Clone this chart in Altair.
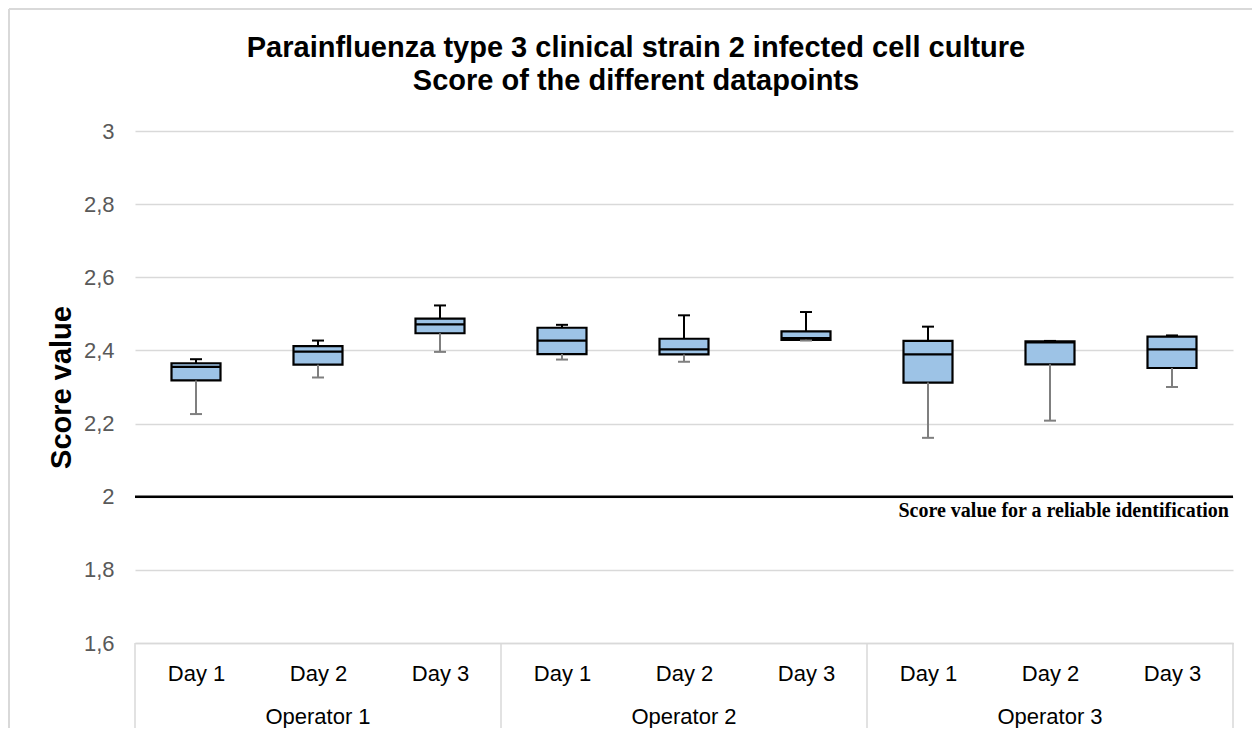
import altair as alt
import pandas as pd

# ---------------- data ----------------
operators = ["Operator 1"] * 3 + ["Operator 2"] * 3 + ["Operator 3"] * 3
days = ["Day 1", "Day 2", "Day 3"] * 3
whisker_low = [2.226, 2.326, 2.396, 2.375, 2.369, 2.427, 2.161, 2.208, 2.300]
q1 = [2.318, 2.361, 2.447, 2.390, 2.389, 2.429, 2.312, 2.362, 2.352]
median = [2.355, 2.397, 2.471, 2.427, 2.403, 2.434, 2.389, 2.422, 2.403]
q3 = [2.365, 2.412, 2.487, 2.462, 2.432, 2.452, 2.426, 2.425, 2.438]
whisker_high = [2.376, 2.427, 2.523, 2.470, 2.496, 2.505, 2.465, 2.426, 2.441]

y_ticks = [1.6, 1.8, 2.0, 2.2, 2.4, 2.6, 2.8, 3.0]
ref_value = [2.0]
ref_label = "Score value for a reliable identification"
title_lines = ["Parainfluenza type 3 clinical strain 2 infected cell culture",
               "Score of the different datapoints"]
y_title = "Score value"
group_edges = [0, 3, 6, 9]

# ---------------- tables ----------------
df = pd.DataFrame({
    "operator": operators,
    "day": days,
    "pos": [i + 0.5 for i in range(len(days))],
    "low": whisker_low,
    "q1": q1,
    "median": median,
    "q3": q3,
    "high": whisker_high,
})
ref_df = pd.DataFrame({"v": ref_value})
edge_df = pd.DataFrame({"edge": group_edges})
one = pd.DataFrame({"a": [0]})

W, H = 1098, 512
GRID = "#d9d9d9"
FONT = "Liberation Sans"

xscale = alt.Scale(domain=[0, len(days)], nice=False, zero=False, padding=0)
yscale = alt.Scale(domain=[1.6, 3.0], nice=False, zero=False, padding=0)

x_axis = alt.Axis(
    values=[i + 0.5 for i in range(len(days))],
    labelExpr="[" + ",".join("'" + d + "'" for d in days) + "][floor(datum.value)]",
    grid=False, ticks=False, domain=True,
    domainColor=GRID, domainWidth=1.5,
    labelFont=FONT, labelFontSize=22, labelColor="#000000",
    labelBaseline="alphabetic", labelPadding=37, labelFlush=False,
    title=None,
)
y_axis = alt.Axis(
    values=y_ticks,
    labelExpr="replace(format(datum.value, '.1~f'), '.', ',')",
    grid=True, gridColor=GRID, gridWidth=1.3,
    ticks=False, domain=False,
    labelFont=FONT, labelFontSize=22, labelColor="#595959", labelPadding=21,
    title=y_title, titleFont=FONT, titleFontSize=29, titleFontWeight="bold",
    titleColor="#000000", titleAngle=270, titleAlign="center",
    titleBaseline="alphabetic", titleX=-65, titleY=256,
)


def X(field):
    return alt.X(field, scale=xscale, axis=x_axis)


def Y(field):
    return alt.Y(field, scale=yscale, axis=y_axis)


src = alt.Chart(df)

box = src.mark_bar(size=49, fill="#9dc3e6", stroke="#000000", strokeWidth=2.2).encode(
    x=X("pos:Q"), y=Y("q1:Q"), y2="q3:Q")
low_rule = src.mark_rule(color="#7f7f7f", strokeWidth=2).encode(
    x=X("pos:Q"), y=Y("low:Q"), y2="q1:Q")
high_rule = src.mark_rule(color="#000000", strokeWidth=2).encode(
    x=X("pos:Q"), y=Y("q3:Q"), y2="high:Q")
low_cap = src.mark_tick(color="#7f7f7f", orient="horizontal", size=12, thickness=2, opacity=1).encode(
    x=X("pos:Q"), y=Y("low:Q"))
high_cap = src.mark_tick(color="#000000", orient="horizontal", size=12, thickness=2, opacity=1).encode(
    x=X("pos:Q"), y=Y("high:Q"))
med = src.mark_tick(color="#000000", orient="horizontal", size=49, thickness=2.2, opacity=1).encode(
    x=X("pos:Q"), y=Y("median:Q"))

ref_line = alt.Chart(ref_df).mark_rule(color="#000000", strokeWidth=2.5).encode(y=Y("v:Q"))
ref_text = alt.Chart(ref_df).mark_text(
    text=ref_label, align="right", baseline="alphabetic", dy=20,
    font="Liberation Serif", fontSize=20, fontWeight="bold", color="#000000",
).encode(y=Y("v:Q"), x=alt.value(W - 4))

separators = alt.Chart(edge_df).mark_rule(color=GRID, strokeWidth=1.5).encode(
    x=X("edge:Q"), y=alt.value(H), y2=alt.value(H + 100))

op_text = src.transform_filter(alt.datum.day == "Day 2").mark_text(
    font=FONT, fontSize=22, color="#000000", baseline="alphabetic", align="center",
).encode(x=X("pos:Q"), y=alt.value(593), text="operator:N")

title1 = alt.Chart(one).mark_text(
    text=title_lines[0], font=FONT, fontSize=29, fontWeight="bold", color="#000000",
    align="center", baseline="alphabetic").encode(x=alt.value(501), y=alt.value(-74))
title2 = alt.Chart(one).mark_text(
    text=title_lines[1], font=FONT, fontSize=29, fontWeight="bold", color="#000000",
    align="center", baseline="alphabetic").encode(x=alt.value(501), y=alt.value(-41))

frame_left = alt.Chart(one).mark_rule(color=GRID, strokeWidth=2).encode(
    x=alt.value(-126), y=alt.value(-122), y2=alt.value(H + 100))
frame_top = alt.Chart(one).mark_rule(color=GRID, strokeWidth=2).encode(
    x=alt.value(-126), x2=alt.value(W + 40), y=alt.value(-122))

chart = alt.layer(
    box, separators, low_rule, high_rule, low_cap, high_cap,
    med, ref_line, ref_text, op_text, title1, title2, frame_left, frame_top,
).properties(
    width=W, height=H,
    background="#ffffff",
    autosize=alt.AutoSizeParams(type="none"),
    padding={"left": 127, "top": 123, "right": 19, "bottom": 85},
).configure_view(stroke=None)

chart.save("out.html", embed_options={"renderer": "svg", "actions": False})
